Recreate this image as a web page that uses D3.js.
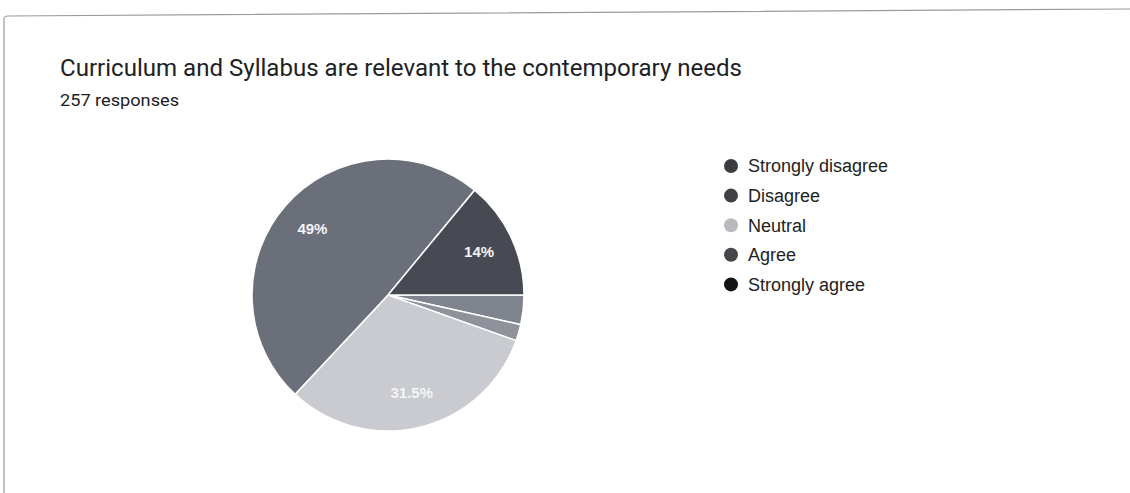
<!DOCTYPE html>
<html>
<head>
<meta charset="utf-8">
<script src="https://cdn.jsdelivr.net/npm/d3@7"></script>
<style>
	html, body { margin: 0; padding: 0; background: #fff; }
	svg { display: block; }
</style>
</head>
<body>
<div id="chart"></div>
<script>
	// answers, counts (out of 257)
	var
		categories = ["Strongly disagree", "Disagree", "Neutral", "Agree", "Strongly agree"],
		counts = [9, 5, 81, 126, 36],
		sliceLabels = ["", "", "31.5%", "49%", "14%"],
		sliceColors = ["#7f838d", "#8f929b", "#c9cbd0", "#6b6f7a", "#474a52"],
		legendColors = ["#3b3c40", "#404145", "#b9babd", "#46474b", "#141416"],
		title = "Curriculum and Syllabus are relevant to the contemporary needs",
		subtitle = "257 responses"

	var
		width = 1130,
		height = 493,
		cx = 388,
		cy = 295,
		radius = 136,

		svg = d3.select("#chart")
			.append("svg")
			.attr("width", width)
			.attr("height", height)

	// card border (slightly skewed in the scan)
	svg.append("path")
		.attr("d", "M4,493 L4,19 Q4,16 8,16 L1130,9")
		.attr("fill", "none")
		.attr("stroke", "#9a9a9a")
		.attr("stroke-width", 1.2)

	svg.append("text")
		.attr("x", 60)
		.attr("y", 76)
		.attr("font-family", "Roboto")
		.attr("font-size", 24)
		.attr("fill", "#202124")
		.attr("textLength", 682)
		.attr("lengthAdjust", "spacingAndGlyphs")
		.text(title)

	svg.append("text")
		.attr("x", 60)
		.attr("y", 106)
		.attr("font-family", "Roboto")
		.attr("font-size", 16)
		.attr("fill", "#202124")
		.attr("textLength", 119)
		.attr("lengthAdjust", "spacingAndGlyphs")
		.text(subtitle)

	var data = categories.map((c, i) => ({name: c, value: counts[i], label: sliceLabels[i], i: i}))

	var pie = d3.pie()
		.value(d => d.value)
		.sort(null)
		.startAngle(Math.PI / 2)
		.endAngle(Math.PI / 2 + 2 * Math.PI)

	var arc = d3.arc().innerRadius(0).outerRadius(radius)
	var labelArc = d3.arc().innerRadius(radius * 0.74).outerRadius(radius * 0.74)

	var g = svg.append("g").attr("transform", `translate(${cx},${cy})`)

	var arcs = pie(data)

	g.selectAll("path")
		.data(arcs)
		.join("path")
		.attr("d", arc)
		.attr("fill", d => sliceColors[d.data.i])
		.attr("stroke", "#fff")
		.attr("stroke-width", 1.5)

	g.selectAll("text")
		.data(arcs.filter(d => d.data.label))
		.join("text")
		.attr("transform", d => `translate(${labelArc.centroid(d)})`)
		.attr("text-anchor", "middle")
		.attr("dy", "0.35em")
		.attr("font-family", "Liberation Sans, Arial")
		.attr("font-size", 15)
		.attr("font-weight", "bold")
		.attr("fill", "#f4f5f7")
		.text(d => d.data.label)

	var legend = svg.append("g")
		.selectAll("g")
		.data(categories)
		.join("g")
		.attr("transform", (d, i) => `translate(731,${166 + i * 29.6})`)

	legend.append("circle")
		.attr("r", 7)
		.attr("fill", (d, i) => legendColors[i])

	legend.append("text")
		.attr("x", 17)
		.attr("dy", "0.35em")
		.attr("font-family", "Liberation Sans, Arial")
		.attr("font-size", 18)
		.attr("fill", "#222")
		.text(d => d)
</script>
</body>
</html>
